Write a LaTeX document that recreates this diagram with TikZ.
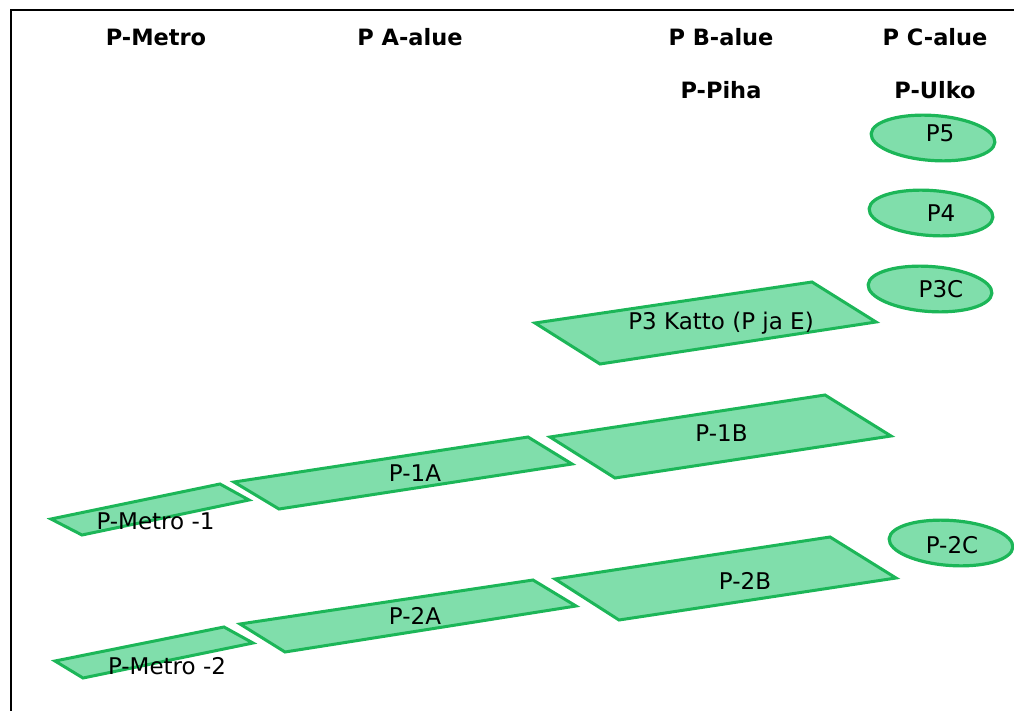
\documentclass[tikz,border=0pt]{standalone}
\usepackage{fontspec}
\setmainfont{DejaVu Sans}
\usetikzlibrary{shapes.geometric}
\definecolor{areafill}{RGB}{128,222,171}
\definecolor{areaedge}{RGB}{28,182,88}
\begin{document}
\begin{tikzpicture}[x=1pt,y=-1pt,
  area/.style={fill=areafill,draw=areaedge,line width=3pt,line join=miter},
  oval/.style={ellipse,fill=areafill,draw=areaedge,line width=3.2pt,minimum width=124pt,minimum height=45pt,inner sep=0pt,rotate=-4},
  head/.style={anchor=base,font=\bfseries\fontsize{22.5}{26}\selectfont,inner sep=0pt},
  lab/.style={anchor=base,font=\fontsize{23}{26}\selectfont,inner sep=0pt}]
\useasboundingbox (0,0) rectangle (1014,711);
% frame
\draw[line width=2pt] (11,711) -- (11,10) -- (1014,10);
% headers
\node[head] (hMetro) at (156,46) {P-Metro};
\node[head] (hA) at (410,46) {P A-alue};
\node[head] (hB) at (721,46) {P B-alue};
\node[head] (hC) at (935,46) {P C-alue};
\node[head] (hPiha) at (721,99) {P-Piha};
\node[head] (hUlko) at (935,99) {P-Ulko};
% ovals
\node[oval] (p5) at (933,138) {};
\node[lab] at (940,142) {P5};
\node[oval] (p4) at (931,213) {};
\node[lab] at (941,222) {P4};
\node[oval] (p3c) at (930,289) {};
\node[lab] at (941,297) {P3C};
\node[oval] (p2c) at (951,543) {};
\node[lab] at (952,553) {P-2C};
% parallelograms
\draw[area] (535,323) -- (812,282) -- (876,322) -- (600,364) -- cycle;
\node[lab] (p3k) at (721,329) {P3 Katto (P ja E)};
\draw[area] (550,437) -- (825,395) -- (891,436) -- (615,478) -- cycle;
\node[lab] (p1b) at (721.5,441) {P-1B};
\draw[area] (234,482) -- (528,437) -- (572,464) -- (279,509) -- cycle;
\node[lab] (p1a) at (415,481) {P-1A};
\draw[area] (51,519) -- (220,484) -- (249,500) -- (82,535) -- cycle;
\node[lab] (pm1) at (155.5,529) {P-Metro -1};
\draw[area] (555,579) -- (830,537) -- (896,578) -- (619,620) -- cycle;
\node[lab] (p2b) at (745,589) {P-2B};
\draw[area] (240,624) -- (533,580) -- (576,606) -- (285,652) -- cycle;
\node[lab] (p2a) at (415,624) {P-2A};
\draw[area] (55,661) -- (224,627) -- (253,643) -- (83,678) -- cycle;
\node[lab] (pm2) at (167,674) {P-Metro -2};
\end{tikzpicture}
\end{document}
